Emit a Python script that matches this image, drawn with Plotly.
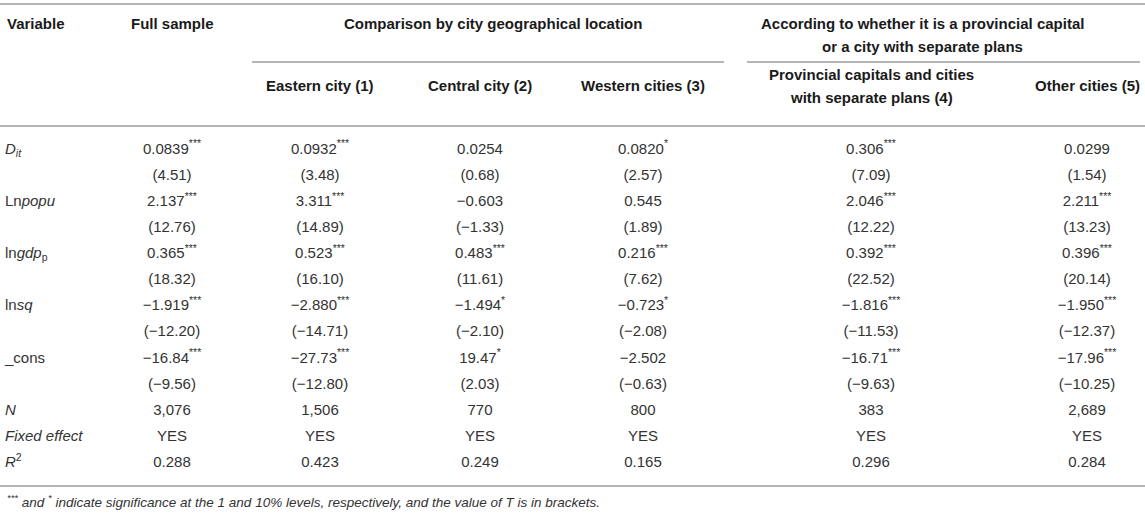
import plotly.graph_objects as go

# ---------------- data ----------------
variables = ["<i>D</i><sub><i>it</i></sub>", "Ln<i>popu</i>", "ln<i>gdp</i><sub>p</sub>", "ln<i>sq</i>", "_cons"]
extra_rows = ["<i>N</i>", "<i>Fixed effect</i>", "<i>R</i><sup>2</sup>"]

group_headers = ["Comparison by city geographical location",
                 "According to whether it is a provincial capital<br>or a city with separate plans"]
column_headers = ["Full sample", "Eastern city (1)", "Central city (2)", "Western cities (3)",
                  "Provincial capitals and cities<br>with separate plans (4)", "Other cities (5)"]

full_coef = ["0.0839***", "2.137***", "0.365***", "−1.919***", "−16.84***"]
full_t = ["4.51", "12.76", "18.32", "−12.20", "−9.56"]
east_coef = ["0.0932***", "3.311***", "0.523***", "−2.880***", "−27.73***"]
east_t = ["3.48", "14.89", "16.10", "−14.71", "−12.80"]
central_coef = ["0.0254", "−0.603", "0.483***", "−1.494*", "19.47*"]
central_t = ["0.68", "−1.33", "11.61", "−2.10", "2.03"]
west_coef = ["0.0820*", "0.545", "0.216***", "−0.723*", "−2.502"]
west_t = ["2.57", "1.89", "7.62", "−2.08", "−0.63"]
prov_coef = ["0.306***", "2.046***", "0.392***", "−1.816***", "−16.71***"]
prov_t = ["7.09", "12.22", "22.52", "−11.53", "−9.63"]
other_coef = ["0.0299", "2.211***", "0.396***", "−1.950***", "−17.96***"]
other_t = ["1.54", "13.23", "20.14", "−12.37", "−10.25"]

n_obs = ["3,076", "1,506", "770", "800", "383", "2,689"]
fixed_effect = ["YES", "YES", "YES", "YES", "YES", "YES"]
r_squared = ["0.288", "0.423", "0.249", "0.165", "0.296", "0.284"]

footnote = ("<i><sup>***</sup> and <sup>*</sup> indicate significance at the 1 and 10% levels, "
            "respectively, and the value of T is in brackets.</i>")

# ---------------- layout constants ----------------
W, H = 1145, 514
FONT = "Liberation Sans, Arial, Helvetica, sans-serif"
col_x = [172, 320, 480, 643, 871, 1087]
label_x = 5
row_y0, row_step = 150, 26.1
line_color = "#b5b5b5"
text_color = "#333333"
head_color = "#1a1a1a"


def fmt_coef(s):
    base = s.rstrip("*")
    stars = s[len(base):]
    return base + (f"<sup>{stars}</sup>" if stars else "")


columns = [(full_coef, full_t), (east_coef, east_t), (central_coef, central_t),
           (west_coef, west_t), (prov_coef, prov_t), (other_coef, other_t)]

n_rows = 2 * len(variables) + len(extra_rows)
row_ys = [row_y0 + i * row_step for i in range(n_rows)]

fig = go.Figure()

# row labels (only rows that carry a label)
label_rows = [2 * i for i in range(len(variables))] + \
             [2 * len(variables) + k for k in range(len(extra_rows))]
labels = variables + extra_rows
fig.add_trace(go.Scatter(x=[label_x] * len(labels), y=[row_ys[r] for r in label_rows],
                         text=labels, mode="text", textposition="middle right",
                         textfont=dict(family=FONT, size=15, color=text_color),
                         hoverinfo="skip", showlegend=False))

# data columns
for j, (coef, tval) in enumerate(columns):
    cells = []
    for c, t in zip(coef, tval):
        cells += [fmt_coef(c), f"({t})"]
    cells += [n_obs[j], fixed_effect[j], r_squared[j]]
    fig.add_trace(go.Scatter(x=[col_x[j]] * n_rows, y=row_ys, text=cells, mode="text",
                             textposition="middle center",
                             textfont=dict(family=FONT, size=15, color=text_color),
                             hoverinfo="skip", showlegend=False))

ann = []


def head(text, x, y, anchor="center"):
    ann.append(dict(x=x, y=y, xref="x", yref="y", text=f"<b>{text}</b>", showarrow=False,
                    xanchor=anchor, yanchor="middle",
                    font=dict(family=FONT, size=15, color=head_color)))


head("Variable", label_x, 23, "left")
head(column_headers[0], col_x[0], 23)
head(group_headers[0], 493, 23)
g2 = group_headers[1].split("<br>")
head(g2[0], 922, 23)
head(g2[1], 922, 46)
for j in (1, 2, 3, 5):
    head(column_headers[j], col_x[j], 85)
p4 = column_headers[4].split("<br>")
head(p4[0], col_x[4], 74)
head(p4[1], col_x[4], 97)

ann.append(dict(x=label_x, y=501, xref="x", yref="y", text=footnote, showarrow=False,
                xanchor="left", yanchor="middle",
                font=dict(family=FONT, size=13.5, color=text_color)))

shapes = []
for (x0, x1, y) in [(0, W, 4), (252, 724, 62), (747, 1140, 62), (0, W, 126), (0, W, 486)]:
    shapes.append(dict(type="line", xref="x", yref="y", x0=x0, x1=x1, y0=y, y1=y,
                       line=dict(color=line_color, width=2)))

fig.update_layout(width=W, height=H, margin=dict(l=0, r=0, t=0, b=0),
                  paper_bgcolor="white", plot_bgcolor="white",
                  annotations=ann, shapes=shapes,
                  xaxis=dict(range=[0, W], visible=False, fixedrange=True),
                  yaxis=dict(range=[H, 0], visible=False, fixedrange=True))

fig.write_html("out.html", post_script="document.body.style.margin='0';",
               config={"displayModeBar": False})
